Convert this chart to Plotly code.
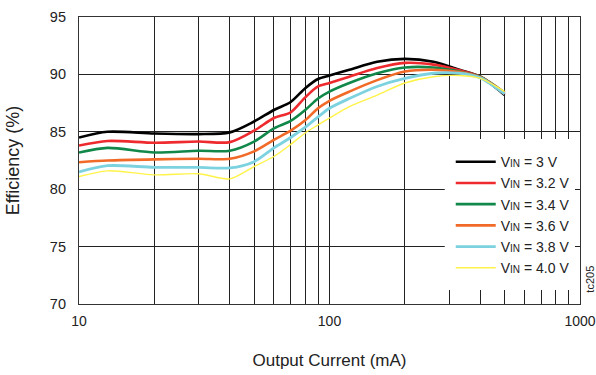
import plotly.graph_objects as go

current_ma = [10, 13, 20, 30, 40, 50, 60, 70, 80, 90, 100, 120, 155, 200, 260, 330, 400, 500]
eff_3v0 = [84.5, 85.0, 84.85, 84.8, 84.95, 85.9, 86.9, 87.6, 88.8, 89.6, 89.9, 90.4, 91.1, 91.35, 91.1, 90.4, 89.8, 88.2]
eff_3v2 = [83.8, 84.2, 84.05, 84.15, 84.1, 85.1, 86.2, 86.7, 88.0, 88.95, 89.25, 89.8, 90.55, 91.0, 90.85, 90.35, 89.8, 88.3]
eff_3v4 = [83.2, 83.6, 83.2, 83.35, 83.35, 84.15, 85.3, 85.95, 86.9, 87.9, 88.5, 89.25, 90.1, 90.6, 90.6, 90.25, 89.8, 88.4]
eff_3v6 = [82.35, 82.5, 82.6, 82.65, 82.65, 83.3, 84.3, 85.1, 86.0, 87.05, 87.7, 88.5, 89.5, 90.25, 90.4, 90.2, 89.75, 88.4]
eff_3v8 = [81.5, 82.05, 81.9, 81.9, 81.85, 82.4, 83.6, 84.5, 85.4, 86.3, 87.05, 87.9, 88.95, 89.65, 90.1, 90.1, 89.7, 88.3]
eff_4v0 = [81.1, 81.6, 81.25, 81.35, 80.9, 81.97, 82.85, 83.9, 84.9, 85.6, 86.2, 87.2, 88.2, 89.25, 89.8, 89.9, 89.65, 88.5]

series_names = ["3 V", "3.2 V", "3.4 V", "3.6 V", "3.8 V", "4.0 V"]
series_values = [eff_3v0, eff_3v2, eff_3v4, eff_3v6, eff_3v8, eff_4v0]
series_colors = ["#000000", "#ee2a2e", "#11884a", "#f26a28", "#7dd2e0", "#fff34a"]
series_widths = [2.6, 2.6, 2.6, 2.6, 2.8, 1.4]

x_tickvals = [10, 20, 30, 40, 50, 60, 70, 80, 90,
              100, 200, 300, 400, 500, 600, 700, 800, 900, 1000]
x_ticktext = ["10", "", "", "", "", "", "", "", "",
              "100", "", "", "", "", "", "", "", "", "1000"]
y_tickvals = [70, 75, 80, 85, 90, 95]

FONT = "Liberation Sans, Arial, sans-serif"

fig = go.Figure()
for name, vals, col, w in zip(series_names, series_values, series_colors, series_widths):
    fig.add_trace(go.Scatter(
        x=current_ma, y=vals, mode="lines",
        line=dict(color=col, width=w, shape="spline", smoothing=0.8),
        name="V<span style='font-size:10px'>IN</span> = " + name,
    ))

# white legend background panel (hides gridlines behind legend)
fig.add_shape(type="rect", xref="paper", yref="paper",
              x0=0.73, x1=0.99, y0=0.049, y1=0.575,
              fillcolor="white", line=dict(width=0), layer="above")

fig.add_annotation(text="tc205", xref="paper", yref="paper",
                   x=1.02, y=0.085, textangle=-90, showarrow=False,
                   font=dict(family=FONT, size=11, color="#222"),
                   xanchor="center", yanchor="middle")

fig.update_layout(
    width=596, height=375,
    margin=dict(l=79, r=16, t=17, b=71, autoexpand=False),
    paper_bgcolor="white", plot_bgcolor="white",
    font=dict(family=FONT, size=14.5, color="#222"),
    showlegend=True,
    legend=dict(x=0.742, y=0.55, xanchor="left", yanchor="top",
                bgcolor="rgba(0,0,0,0)", borderwidth=0,
                font=dict(family=FONT, size=14, color="#222"),
                itemwidth=40, tracegroupgap=0),
    xaxis=dict(type="log", range=[0.99995, 3.00005], tickvals=x_tickvals, ticktext=x_ticktext,
               showgrid=True, gridcolor="#222", gridwidth=1,
               showline=True, linecolor="#333", linewidth=1.2, mirror=True,
               ticks="", ticklabelstandoff=4, ticklabeloverflow="allow",
               zeroline=False, automargin=False,
               tickfont=dict(family=FONT, size=14, color="#222"),
               title=dict(text="Output Current (mA)", standoff=26,
                          font=dict(family=FONT, size=17, color="#222"))),
    yaxis=dict(range=[70, 95], tickvals=y_tickvals,
               showgrid=True, gridcolor="#222", gridwidth=1,
               showline=True, linecolor="#333", linewidth=1.2, mirror=True,
               ticks="", ticklabelstandoff=9, zeroline=False, automargin=False,
               tickfont=dict(family=FONT, size=14.5, color="#222"),
               title=dict(text="Efficiency (%)", standoff=25,
                          font=dict(family=FONT, size=18, color="#222"))),
)

fig.write_html("out.html")
